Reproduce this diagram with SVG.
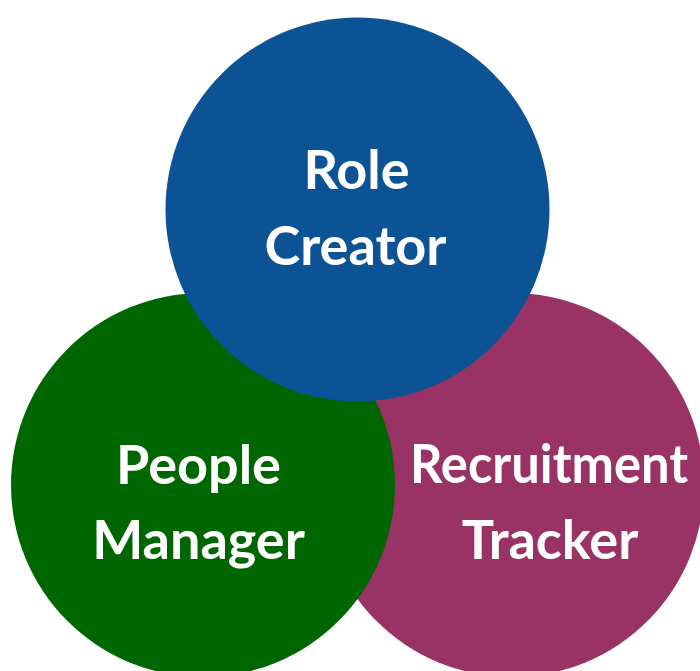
<svg xmlns="http://www.w3.org/2000/svg" width="700" height="671" viewBox="0 0 700 671">
<style>
.lbl{font-family:Lato,"Liberation Sans",sans-serif;font-weight:bold;font-size:54px;fill:#ffffff;text-anchor:middle}
</style>
<rect width="700" height="671" fill="#ffffff"/>
<g id="recruitment-tracker">
<circle cx="512" cy="485" r="192" fill="#993366"/>
<text class="lbl" x="549" y="483" textLength="278" lengthAdjust="spacingAndGlyphs">Recruitment</text>
<text class="lbl" x="550" y="559">Tracker</text>
</g>
<g id="people-manager">
<circle cx="203" cy="485" r="192" fill="#006600"/>
<text class="lbl" x="198.5" y="484">People</text>
<text class="lbl" x="198.5" y="559">Manager</text>
</g>
<g id="role-creator">
<circle cx="357.5" cy="209.5" r="192" fill="#0b5394"/>
<text class="lbl" x="356.5" y="189">Role</text>
<text class="lbl" x="355.5" y="265">Creator</text>
</g>
<g id="connectors"></g>
</svg>
